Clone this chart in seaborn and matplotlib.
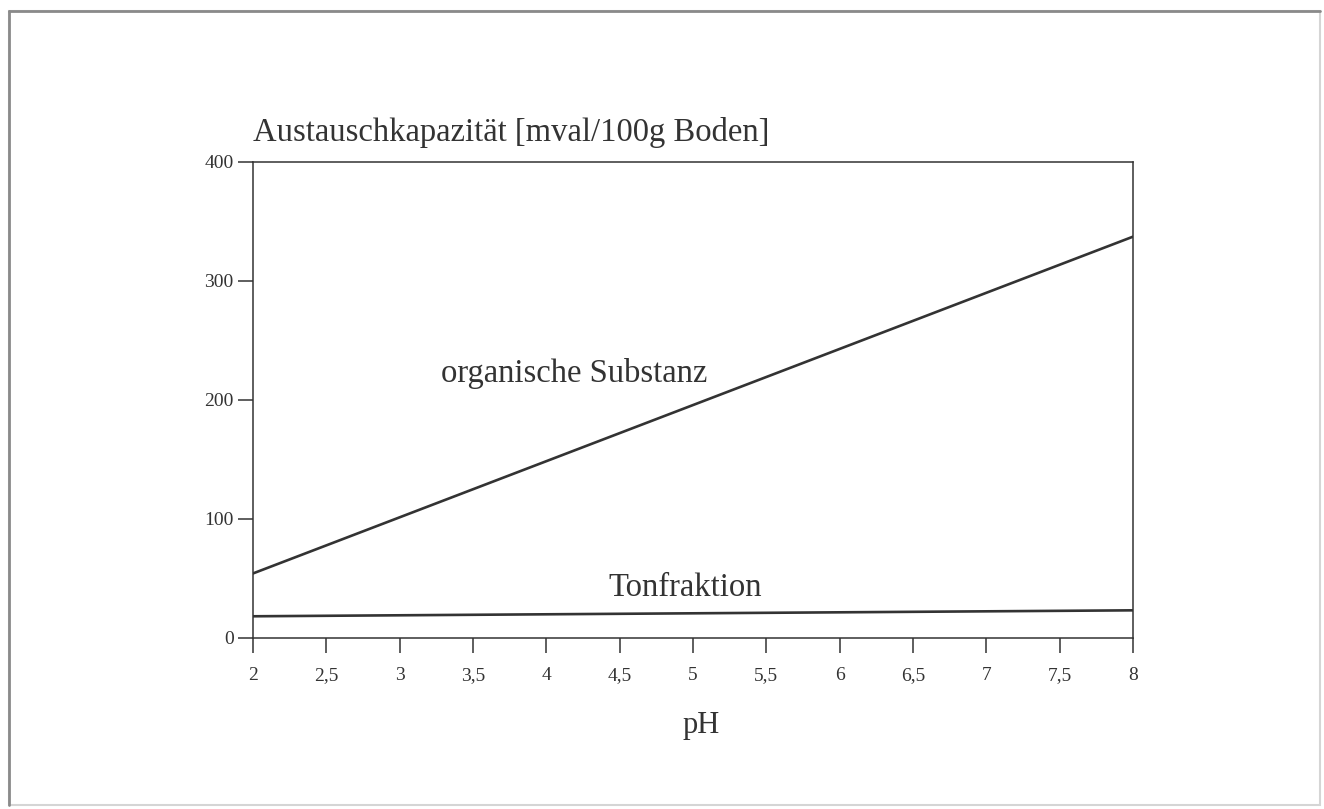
import numpy as np
import pandas as pd
import matplotlib
matplotlib.use('Agg')
import matplotlib.pyplot as plt
import seaborn as sns
from matplotlib.patches import Rectangle

# data
ph = [2, 8]
organische_substanz = [54, 337]
tonfraktion = [18, 23]

x_ticks = [2, 2.5, 3, 3.5, 4, 4.5, 5, 5.5, 6, 6.5, 7, 7.5, 8]
x_ticklabels = ["2", "2,5", "3", "3,5", "4", "4,5", "5", "5,5", "6", "6,5", "7", "7,5", "8"]
y_ticks = [0, 100, 200, 300, 400]
y_ticklabels = ["0", "100", "200", "300", "400"]

sns.set_style("white")
plt.rcParams['font.family'] = ['Liberation Serif', 'DejaVu Serif']

ink = "#333333"

df = pd.DataFrame({
    "pH": ph + ph,
    "wert": organische_substanz + tonfraktion,
    "reihe": ["organische Substanz"] * len(ph) + ["Tonfraktion"] * len(ph),
})

fig = plt.figure(figsize=(13.24, 8.09), dpi=100)
ax = fig.add_axes([253 / 1324, 1 - 637.7 / 809, 880 / 1324, 476 / 809])

sns.lineplot(data=df, x="pH", y="wert", hue="reihe", palette=[ink, ink],
             linewidth=1.9, legend=False, ax=ax)

ax.set_xlim(2, 8)
ax.set_ylim(0, 400)
ax.set_xticks(x_ticks)
ax.set_xticklabels(x_ticklabels)
ax.set_yticks(y_ticks)
ax.set_yticklabels(y_ticklabels)

for s in ax.spines.values():
    s.set_visible(True)
    s.set_color(ink)
    s.set_linewidth(1.1)

# seaborn's white style hides ticks, switch them back on
ax.tick_params(axis="x", bottom=True, direction="out", length=11, width=1.1, color=ink,
               labelsize=14, labelcolor=ink, pad=10)
ax.tick_params(axis="y", left=True, direction="out", length=11, width=1.1, color=ink,
               labelsize=14, labelcolor=ink, pad=3)

ax.set_xlabel("pH", fontsize=22, color=ink)
ax.xaxis.set_label_coords(0.509, -0.154)
ax.set_ylabel("")
ax.text(0, 1.043, "Austauschkapazität [mval/100g Boden]", transform=ax.transAxes,
        ha="left", va="baseline", fontsize=23.5, color=ink)

# curve labels
ax.text(4.19, 215, "organische Substanz", ha="center", va="baseline", fontsize=23.5, color=ink)
ax.text(4.95, 35, "Tonfraktion", ha="center", va="baseline", fontsize=23.5, color=ink)

# frame of the scanned page
fig.patches.append(Rectangle((9 / 1324, 1 - 805 / 809), 1311 / 1324, 794 / 809,
                             transform=fig.transFigure, fill=False,
                             edgecolor="#d5d5d5", linewidth=1.5))
fig.lines.append(plt.Line2D([9 / 1324, 9 / 1324], [1 - 805 / 809, 1 - 11 / 809],
                            transform=fig.transFigure, color="#8a8a8a", linewidth=2))
fig.lines.append(plt.Line2D([9 / 1324, 1320 / 1324], [1 - 11 / 809, 1 - 11 / 809],
                            transform=fig.transFigure, color="#8a8a8a", linewidth=2))

fig.savefig("out.png", dpi=100)
